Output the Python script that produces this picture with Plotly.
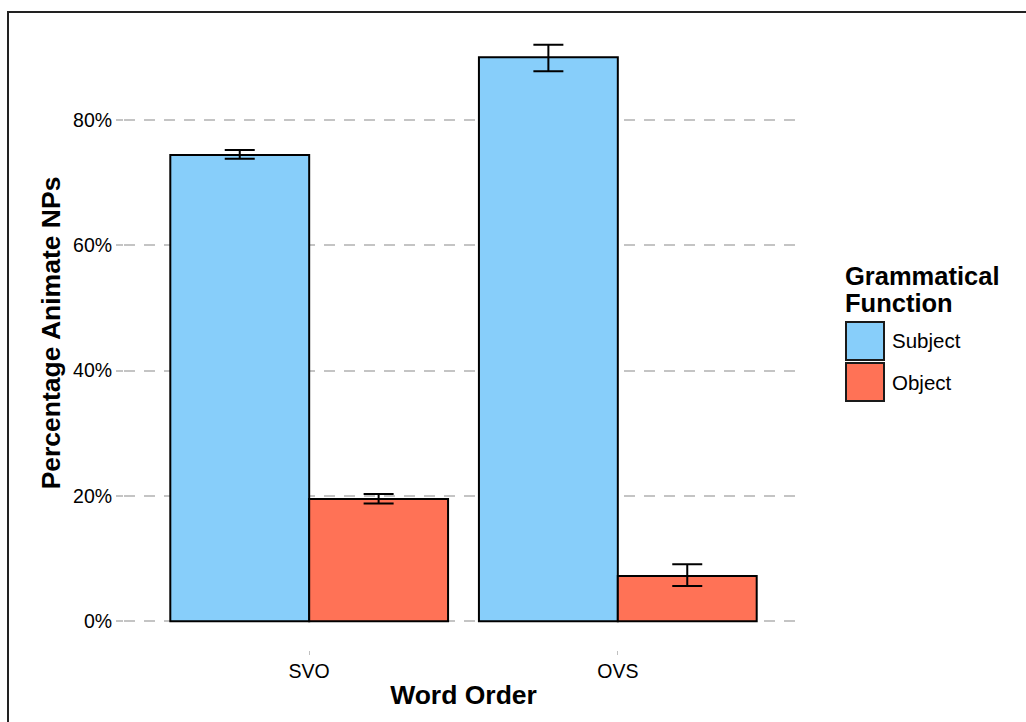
import plotly.graph_objects as go

# Data
word_order = ["SVO", "OVS"]
functions = ["Subject", "Object"]
subject_pct = [0.744, 0.900]
subject_lo = [0.738, 0.878]
subject_hi = [0.752, 0.920]
object_pct = [0.195, 0.072]
object_lo = [0.188, 0.056]
object_hi = [0.203, 0.091]
colors = {"Subject": "#87CEFA", "Object": "#FF7256"}
y_ticks = [0, 0.2, 0.4, 0.6, 0.8]
y_tick_labels = ["0%", "20%", "40%", "60%", "80%"]
legend_title_lines = ["Grammatical", "Function"]

W, H = 1026, 722
ML, MR, MT, MB = 124, 223, 16, 72
PW, PH = W - ML - MR, H - MT - MB


def px(x):
    return (x - ML) / PW


def py(y):
    return (H - MB - y) / PH


FONT = "Liberation Sans, Arial, sans-serif"

fig = go.Figure()
series = [
    ("Subject", subject_pct, subject_lo, subject_hi),
    ("Object", object_pct, object_lo, object_hi),
]
for name, vals, lo, hi in series:
    fig.add_trace(go.Bar(
        x=word_order, y=vals, name=name,
        marker=dict(color=colors[name], line=dict(color="black", width=2)),
        error_y=dict(
            type="data", symmetric=False,
            array=[h - v for h, v in zip(hi, vals)],
            arrayminus=[v - l for v, l in zip(vals, lo)],
            color="black", thickness=2, width=15,
        ),
        showlegend=False,
    ))

fig.update_layout(
    width=W, height=H,
    margin=dict(l=ML, r=MR, t=MT, b=MB, pad=0),
    paper_bgcolor="white", plot_bgcolor="white",
    barmode="group", bargap=0.1, bargroupgap=0,
    font=dict(family=FONT, color="black"),
    xaxis=dict(
        range=[-0.6, 1.6], showgrid=False, zeroline=False, showline=False,
        ticks="outside", ticklen=4, tickcolor="#c0c0c0", tickwidth=1,
        tickfont=dict(size=19.5, color="black"),
        title=dict(text="<b>Word Order</b>", font=dict(size=26.5), standoff=4),
    ),
    yaxis=dict(
        range=[-0.046, 0.966], zeroline=False, showline=False,
        tickvals=y_ticks, ticktext=y_tick_labels,
        ticks="outside", ticklen=7, tickcolor="#c4c4c4", tickwidth=2,
        tickfont=dict(size=19.5, color="black"),
        showgrid=True, gridcolor="#c4c4c4", gridwidth=2, griddash="11px,9px",
        title=dict(text="<b>Percentage Animate NPs</b>", font=dict(size=26.5), standoff=4),
    ),
)

# Outer frame
fig.add_shape(type="rect", xref="paper", yref="paper",
              x0=px(8), x1=px(1040), y0=py(740), y1=py(12),
              line=dict(color="#222222", width=2), fillcolor="rgba(0,0,0,0)")

# Legend drawn with shapes and text
for line, top in zip(legend_title_lines, [260, 287]):
    fig.add_annotation(xref="paper", yref="paper", x=px(843), y=py(top),
                       xanchor="left", yanchor="top", align="left", showarrow=False,
                       text="<b>" + line + "</b>",
                       font=dict(size=25.5, color="black", family=FONT))
key_tops = [322, 363]
for name, top in zip(functions, key_tops):
    fig.add_shape(type="rect", xref="paper", yref="paper",
                  x0=px(846), x1=px(884), y0=py(top + 38), y1=py(top),
                  line=dict(color="#1a1a1a", width=2), fillcolor=colors[name])
    fig.add_annotation(xref="paper", yref="paper", x=px(890), y=py(top + 19),
                       xanchor="left", yanchor="middle", showarrow=False,
                       text=name, font=dict(size=20.5, color="black", family=FONT))

fig.write_html("out.html")
